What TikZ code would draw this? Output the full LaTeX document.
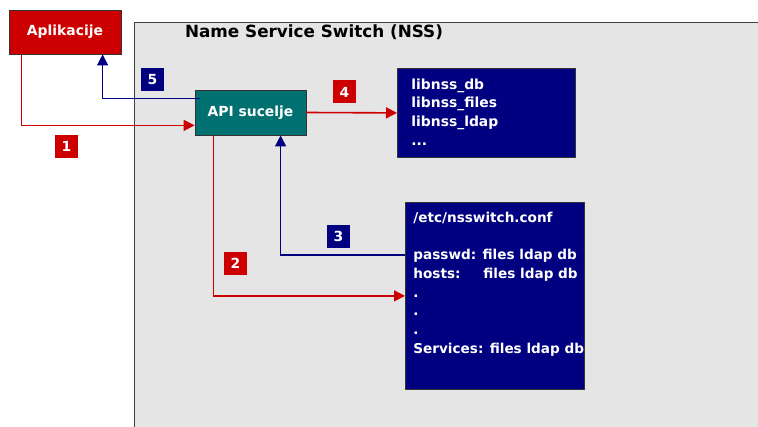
\documentclass[tikz,border=0pt]{standalone}
\usepackage{fontspec}
\setmainfont{DejaVu Sans}
\usetikzlibrary{arrows.meta,positioning}
\definecolor{nssred}{RGB}{204,0,0}
\definecolor{nssnavy}{RGB}{0,0,128}
\definecolor{nssteal}{RGB}{0,112,112}
\definecolor{nssgray}{RGB}{229,229,229}
\newcommand{\bodyfont}{\fontsize{13.9}{18.6}\selectfont\bfseries}
\newcommand{\conffont}{\fontsize{13.6}{18.7}\selectfont\bfseries}
\tikzset{
  box/.style={rectangle, draw=black!80, line width=0.8pt, text=white,
              font=\bodyfont, inner sep=0pt},
  appbox/.style={box, fill=nssred, minimum width=112pt, minimum height=44pt},
  apibox/.style={box, fill=nssteal, minimum width=111pt, minimum height=45pt},
  listbox/.style={box, fill=nssnavy, anchor=north west, inner ysep=0pt},
  tag/.style={rectangle, minimum size=23pt, inner sep=0pt, text=white,
              font=\bodyfont},
  redtag/.style={tag, fill=nssred},
  bluetag/.style={tag, fill=nssnavy},
  redflow/.style={-{Triangle[length=11pt,width=11pt]}, line width=1.6pt, draw=nssred},
  blueflow/.style={-{Triangle[length=11pt,width=11pt]}, line width=1.4pt, draw=nssnavy},
  title/.style={font=\fontsize{16.8}{20}\selectfont\bfseries}
}
\begin{document}
\begin{tikzpicture}[x=1pt, y=-1pt]
  \useasboundingbox (0,0) rectangle (758,427);

  % NSS frame
  \fill[nssgray] (134,23) rectangle (758,427);
  \draw[black!75, line width=1pt] (134,427) |- (758,23);
  \node[title] (title) at (314,32) {Name Service Switch (NSS)};

  % boxes
  \node[appbox] (app) at (65,32) {Aplikacije};
  \node[apibox] (api) at (250.5,112.5) {API sucelje};
  \node[listbox, inner xsep=14pt] (libs) at (397,68) {%
    \parbox[t][89pt][t]{150pt}{\raggedright\rule{0pt}{21pt}libnss\_db\\
      libnss\_files\\ libnss\_ldap\\ ...}};
  \node[listbox, inner xsep=8pt, font=\conffont] (conf) at (405,202) {%
    \parbox[t][187pt][t]{163pt}{\raggedright\rule{0pt}{20pt}/etc/nsswitch.conf\\[18.7pt]
      \mbox{passwd: files ldap db}\\
      \mbox{\makebox[70pt][l]{hosts:}files ldap db}\\
      .\\ .\\ .\\
      \mbox{Services: files ldap db}}};

  % flows
  \draw[redflow] ([xshift=13pt]app.south west) |- ([yshift=10pt]api.south west);
  \draw[blueflow] ([xshift=5pt,yshift=-9pt]api.north west) -| ([xshift=94pt]app.south west);
  \draw[redflow] (api.east) -- (libs.west);
  \draw[redflow] ([xshift=19pt]api.south west) |- (conf.west);
  \draw[blueflow] ([yshift=-53pt]conf.north west) -| ([xshift=86pt]api.south west);

  % step numbers
  \node[redtag] (n1) at (66.5,146.5) {1};
  \node[redtag] (n2) at (235.5,263.5) {2};
  \node[bluetag] (n3) at (338.5,236.5) {3};
  \node[redtag] (n4) at (344.5,92) {4};
  \node[bluetag] (n5) at (152.5,80) {5};
\end{tikzpicture}
\end{document}
